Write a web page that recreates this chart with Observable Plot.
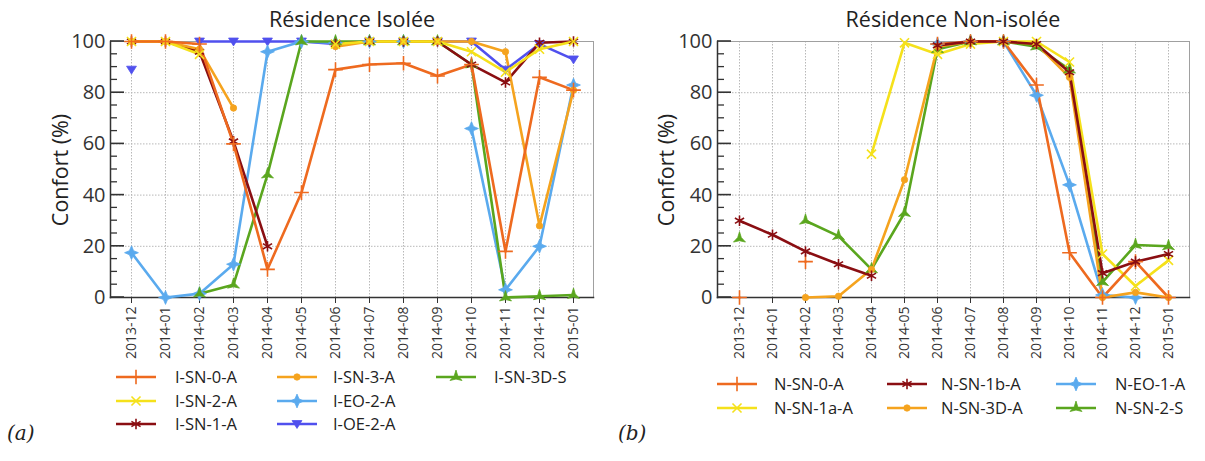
<!DOCTYPE html>
<html><head><meta charset="utf-8">
<script src="https://cdn.jsdelivr.net/npm/d3@7"></script>
<script src="https://cdn.jsdelivr.net/npm/@observablehq/plot@0.6"></script>
<style>
body{margin:0;background:#fff;font-family:"Open Sans",sans-serif;}
#root{position:relative;width:1205px;height:461px;overflow:hidden;background:#fff;}
.chart{position:absolute;top:0;}
.title{position:absolute;top:4px;font-size:21.5px;color:#222;transform:translateX(-50%);white-space:nowrap;}
.ylab{position:absolute;font-size:21.5px;color:#222;white-space:nowrap;transform:translate(-50%,-50%) rotate(-90deg);}
.leg{position:absolute;font-size:16.5px;color:#222;white-space:nowrap;line-height:18px;}
.sw{position:absolute;}
.panel{position:absolute;font-family:"DejaVu Serif",serif;font-style:italic;font-size:20px;color:#222;}
</style></head>
<body><div id="root"></div>
<script>
const N = null;
const months = ["2013-12","2014-01","2014-02","2014-03","2014-04","2014-05","2014-06","2014-07","2014-08","2014-09","2014-10","2014-11","2014-12","2015-01"];
const yTicks = [0,20,40,60,80,100];
const yMinor = [5,10,15,25,30,35,45,50,55,65,70,75,85,90,95];

// Résidence Isolée
const iSN0A  = [100,100,99,60,11,41,89,91,91.5,86.5,91,18,86,81];
const iSN2A  = [100,100,95,N,N,N,99,100,100,100,96,88,97,100];
const iSN1A  = [100,100,96,61,20,N,99,100,100,100,91,84,99.5,100];
const iSN3A  = [100,100,97,74,N,N,98,100,100,100,100,96,28,81];
const iEO2A  = [17.5,0,1.5,13,96,100,99.5,100,100,N,66,3,20,83];
const iOE2A  = [89,N,100,100,100,100,99,100,100,100,100,89,99,93];
const iSN3DS = [N,N,1.5,5,48,100,100,100,100,100,91,0,0.5,1];

// Résidence Non-isolée
const nSN0A  = [0,N,14,N,N,N,99,100,100,83,17.5,0,14,0];
const nSN1aA = [N,N,N,N,56,99.5,95,99,100,100,92,17,4.5,14.5];
const nSN1bA = [30,24.5,18,13,8.5,N,98.5,100,100,99,88,9.5,14,17];
const nSN3DA = [N,N,0,0.5,11,46,98,100,100,99,86,0,2,0];
const nEO1A  = [N,N,N,N,N,N,99,100,100,79,44,1,0,N];
const nSN2S  = [23,N,30,24,11,33,97,100,100,98,89,6,20.5,20];

const C = {red:"#EE6A1F", yellow:"#F5E11B", dark:"#8A0E12", orange:"#F5A31E", blue:"#5AAAEE", purple:"#5050EE", green:"#5AA61E"};
function star(n, inner, rot){
  return {draw(ctx, size){
    const R = Math.sqrt(size)*0.75;
    for (let k=0;k<2*n;k++){
      const a = rot + Math.PI*k/n, r = k%2 ? R*inner : R;
      const x = r*Math.sin(a), y = -r*Math.cos(a);
      k ? ctx.lineTo(x,y) : ctx.moveTo(x,y);
    }
    ctx.closePath();
  }};
}
const invTri = {draw(ctx, size){const s=Math.sqrt(size)*0.62; ctx.moveTo(-s,-s*0.7); ctx.lineTo(s,-s*0.7); ctx.lineTo(0,s*0.9); ctx.closePath();}};
const ST = {
  plus:{symbol:"plus", r:4.8, filled:false},
  times:{symbol:"times", r:4.2, filled:false},
  ast:{symbol:"asterisk", r:5, filled:false},
  circ:{symbol:"circle", r:3.2, filled:true},
  diam:{symbol:star(4,0.42,0), r:5.2, filled:true},
  tri:{symbol:invTri, r:4.5, filled:true},
  wye:{symbol:star(3,0.3,0), r:5.2, filled:true}
};

const leftSeries = [
  {name:"I-OE-2-A", values:iOE2A, color:C.purple, st:ST.tri},
  {name:"I-EO-2-A", values:iEO2A, color:C.blue, st:ST.diam},
  {name:"I-SN-3D-S", values:iSN3DS, color:C.green, st:ST.wye},
  {name:"I-SN-1-A", values:iSN1A, color:C.dark, st:ST.ast},
  {name:"I-SN-3-A", values:iSN3A, color:C.orange, st:ST.circ},
  {name:"I-SN-2-A", values:iSN2A, color:C.yellow, st:ST.times},
  {name:"I-SN-0-A", values:iSN0A, color:C.red, st:ST.plus}
];
const leftLegend = [["I-SN-0-A","I-SN-2-A","I-SN-1-A"],["I-SN-3-A","I-EO-2-A","I-OE-2-A"],["I-SN-3D-S"]];
const rightSeries = [
  {name:"N-EO-1-A", values:nEO1A, color:C.blue, st:ST.diam},
  {name:"N-SN-2-S", values:nSN2S, color:C.green, st:ST.wye},
  {name:"N-SN-3D-A", values:nSN3DA, color:C.orange, st:ST.circ},
  {name:"N-SN-1a-A", values:nSN1aA, color:C.yellow, st:ST.times},
  {name:"N-SN-0-A", values:nSN0A, color:C.red, st:ST.plus},
  {name:"N-SN-1b-A", values:nSN1bA, color:C.dark, st:ST.ast}
];
const rightLegend = [["N-SN-0-A","N-SN-1a-A"],["N-SN-1b-A","N-SN-3D-A"],["N-EO-1-A","N-SN-2-S"]];

const root = document.getElementById("root");

function makeChart(series, left, marginLeft, marginRight){
  const W = 600;
  const rows = series.flatMap(s => months.map((m,i)=>({month:m, value:s.values[i], series:s.name})));
  const marks = [
    Plot.gridX(months, {stroke:"#b8b8b8", strokeOpacity:1, strokeDasharray:"1.5,1.5"}),
    Plot.gridY([20,40,60,80], {stroke:"#b8b8b8", strokeOpacity:1, strokeDasharray:"1.5,1.5"}),
    Plot.frame({stroke:"#a0a0a0"}),
    Plot.frame({anchor:"left", stroke:"#333", strokeWidth:1.5}),
    Plot.frame({anchor:"bottom", stroke:"#333", strokeWidth:1.5}),
    Plot.axisY(yTicks, {tickSize:0, tickPadding:5, fontSize:20, fill:"#333", label:null}),
    Plot.axisX(months, {tickRotate:-90, tickSize:6, tickPadding:3, fontSize:14, fill:"#333", stroke:"#333", label:null})
  ];
  for (const s of series){
    const d = rows.filter(r=>r.series===s.name);
    marks.push(Plot.line(d, {x:"month", y:"value", stroke:s.color, strokeWidth:2.6}));
  }
  for (const s of series){
    const d = rows.filter(r=>r.series===s.name && r.value!=null);
    marks.push(Plot.dot(d, {x:"month", y:"value", symbol:()=>s.st.symbol, r:s.st.r,
      fill: s.st.filled ? s.color : "none", stroke:s.color, strokeWidth: s.st.filled ? 0.8 : 1.6}));
  }
  const svg = Plot.plot({
    width:W, height:400, marginLeft, marginRight, marginTop:41, marginBottom:103,
    style:{fontFamily:"Open Sans, sans-serif", background:"transparent"},
    x:{type:"point", domain:months, padding:0.5},
    y:{domain:[0,100]},
    symbol:{type:"identity"},
    marks
  });
  // inward y ticks placed with the plot's own y scale
  const ys = svg.scale("y");
  const g = d3.select(svg).append("g").attr("stroke", "#333").attr("fill", "none");
  for (const t of yTicks) g.append("line").attr("x1", marginLeft).attr("x2", marginLeft + 14)
    .attr("y1", ys.apply(t)).attr("y2", ys.apply(t)).attr("stroke-width", 1.6);
  for (const t of yMinor) g.append("line").attr("x1", marginLeft).attr("x2", marginLeft + 7)
    .attr("y1", ys.apply(t)).attr("y2", ys.apply(t)).attr("stroke-width", 1.3);
  d3.select(svg).selectAll('g[aria-label="y-axis tick label"] text').style("font-size", "20px");
  d3.select(svg).selectAll('g[aria-label="x-axis tick label"] text').style("font-size", "14px");
  svg.classList.add("chart");
  svg.style.left = left+"px";
  root.appendChild(svg);
}

function addDiv(cls, text, x, y){
  const d = document.createElement("div"); d.className=cls; d.textContent=text; d.style.left=x+"px"; d.style.top=y+"px"; root.appendChild(d); return d;
}
function addLegend(series, cols, swX, txtX, rowY){
  const byName = Object.fromEntries(series.map(s=>[s.name,s]));
  const named = {plus:d3.symbolPlus,times:d3.symbolTimes,asterisk:d3.symbolAsterisk,circle:d3.symbolCircle};
  cols.forEach((col,ci)=>col.forEach((name,ri)=>{
    const s = byName[name]; const cy = rowY[ri];
    const sw = d3.create("svg").attr("class","sw").attr("width",42).attr("height",18)
      .style("left",swX[ci]+"px").style("top",(cy-9)+"px");
    sw.append("line").attr("x1",1).attr("x2",41).attr("y1",9).attr("y2",9).attr("stroke",s.color).attr("stroke-width",2.6);
    const sym = typeof s.st.symbol === "string" ? named[s.st.symbol] : s.st.symbol;
    sw.append("path").attr("transform","translate(21,9)").attr("d", d3.symbol(sym, s.st.r*s.st.r*Math.PI)())
      .attr("fill", s.st.filled ? s.color : "none").attr("stroke", s.color).attr("stroke-width", s.st.filled?0.8:1.6);
    root.appendChild(sw.node());
    addDiv("leg", name, txtX[ci], cy-9);
  }));
}

makeChart(leftSeries, 0, 110, 7);
makeChart(rightSeries, 605, 112, 16);
addDiv("title", "Résidence Isolée", 352, 4);
addDiv("title", "Résidence Non-isolée", 953, 4);
addDiv("ylab", "Confort (%)", 59, 170);
addDiv("ylab", "Confort (%)", 665, 170);
addLegend(leftSeries, leftLegend, [115,276,435], [175,333,494], [377,401,424]);
addLegend(rightSeries, rightLegend, [716,886,1055], [774,941,1115], [384,408]);
addDiv("panel", "(a)", 7, 421);
addDiv("panel", "(b)", 618, 421);
</script></body></html>
